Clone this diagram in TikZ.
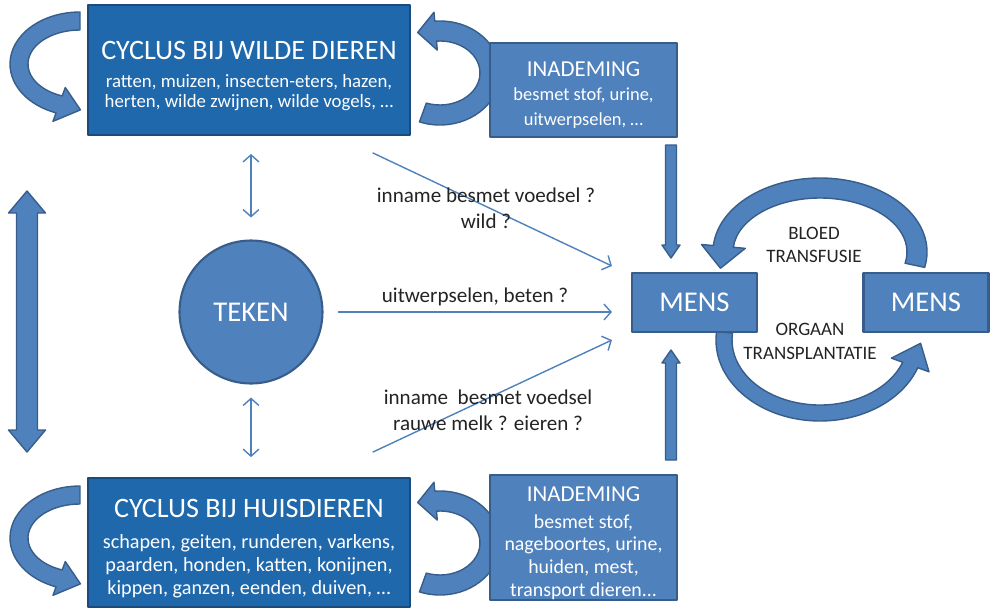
\documentclass[tikz,border=0pt]{standalone}
\usepackage{fontspec}
\setmainfont{Carlito}
\usetikzlibrary{arrows.meta,calc}

\definecolor{darkbox}{RGB}{31,104,172}
\definecolor{darkedge}{RGB}{27,74,124}
\definecolor{midbox}{RGB}{79,129,189}
\definecolor{midedge}{RGB}{56,93,138}
\definecolor{labeltext}{RGB}{35,35,35}

% curved block arrow: centre, rx, ry, from angle, to angle, half band, head extra, head length
\newcommand{\bandarrow}[8]{%
	\pgfmathsetmacro{\bsgn}{sign(#5-#4)}%
	\pgfmathsetmacro{\btx}{-\bsgn*#2*sin(#5)}%
	\pgfmathsetmacro{\bty}{\bsgn*#3*cos(#5)}%
	\pgfmathsetmacro{\btl}{veclen(\btx,\bty)}%
	\pgfmathsetmacro{\btipx}{#2*cos(#5)+#8*\btx/\btl}%
	\pgfmathsetmacro{\btipy}{#3*sin(#5)+#8*\bty/\btl}%
	\pgfmathsetmacro{\oxr}{#2+#6}\pgfmathsetmacro{\oyr}{#3+#6}%
	\pgfmathsetmacro{\ixr}{#2-#6}\pgfmathsetmacro{\iyr}{#3-#6}%
	\pgfmathsetmacro{\hoxr}{#2+#6+#7}\pgfmathsetmacro{\hoyr}{#3+#6+#7}%
	\pgfmathsetmacro{\hixr}{#2-#6-#7}\pgfmathsetmacro{\hiyr}{#3-#6-#7}%
	\begin{scope}[shift={(#1)}]
		\filldraw[bandstyle] (#4:\oxr\space and \oyr)
		arc[start angle=#4, end angle=#5, x radius=\oxr, y radius=\oyr]
		-- (#5:\hoxr\space and \hoyr) -- (\btipx,\btipy)
		-- (#5:\hixr\space and \hiyr) -- (#5:\ixr\space and \iyr)
		arc[start angle=#5, end angle=#4, x radius=\ixr, y radius=\iyr] -- cycle;
	\end{scope}}

% straight vertical block arrow: x, tail y, tip y
\newcommand{\vblock}[3]{%
	\pgfmathsetmacro{\hbase}{#3+13*sign(#2-#3)}%
	\filldraw[bandstyle] (#1-5.5,#2) -- (#1-5.5,\hbase) -- (#1-9,\hbase) -- (#1,#3)
	-- (#1+9,\hbase) -- (#1+5.5,\hbase) -- (#1+5.5,#2) -- cycle;}

\begin{document}
\begin{tikzpicture}[
	x=0.02cm, y=-0.02cm,
	every node/.style={font=\fontsize{12}{14}\selectfont},
	line cap=round,
	line join=round,
	bandstyle/.style={fill=midbox, draw=midedge, line width=0.8pt},
	cyclebox/.style={draw=darkedge, line width=1.2pt, fill=darkbox, text=white,
		align=center, inner sep=0pt, minimum width=6.44cm},
	breathbox/.style={draw=midedge, line width=1.2pt, fill=midbox, text=white,
		align=center, inner sep=0pt, minimum width=3.74cm},
	humanbox/.style={breathbox, minimum width=2.5cm, minimum height=1.18cm,
		font=\fontsize{16.3}{18}\selectfont},
	intake/.style={draw=midbox, line width=0.8pt, -{Straight Barb[length=4pt,width=9pt]}},
	tickpair/.style={draw=midbox, line width=0.8pt,
		{Straight Barb[length=4pt,width=9pt]}-{Straight Barb[length=4pt,width=9pt]}},
	pathlabel/.style={text=labeltext, align=center, font=\fontsize{12}{15}\selectfont},
	organlabel/.style={text=labeltext, align=center, font=\fontsize{10.8}{13.3}\selectfont}
	]
	
	\useasboundingbox (0,0) rectangle (995,609);
	
	% loops and bent arrows (behind the boxes)
	\bandarrow{80,64}{61}{43}{270}{110}{9}{9}{22}
	\bandarrow{80,538}{61}{43}{270}{110}{9}{9}{22}
	\bandarrow{440,73}{50}{42}{110}{-95}{10}{9}{18}
	\bandarrow{440,543}{50}{42}{110}{-95}{10}{9}{18}
	\bandarrow{820,252}{97}{64}{12}{-175}{10}{12}{22}
	\bandarrow{820,340}{96}{73}{186}{20}{8}{12}{24}
	
	% boxes
	\node[cyclebox, minimum height=2.6cm, font=\fontsize{10.7}{11.6}\selectfont] (wild) at (249,70)
	{{\fontsize{16}{19}\selectfont\rule{0pt}{17pt}CYCLUS BIJ WILDE DIEREN}\\[4.3pt]
		ratten, muizen, insecten-eters, hazen,\\
		herten, wilde zwijnen, wilde vogels, …};
	\node[breathbox, minimum height=1.88cm, font=\fontsize{10.5}{14}\selectfont] (inademA) at (583.5,90)
	{{\fontsize{13}{14}\selectfont\rule{0pt}{14pt}INADEMING}\\
		besmet stof, urine,\\
		uitwerpselen, …};
	\node[cyclebox, minimum height=2.58cm, font=\fontsize{11.5}{13}\selectfont] (huis) at (249,542.5)
	{{\fontsize{16}{19}\selectfont\rule{0pt}{17pt}CYCLUS BIJ HUISDIEREN}\\[4.6pt]
		schapen, geiten, runderen, varkens,\\
		paarden, honden, katten, konijnen,\\
		kippen, ganzen, eenden, duiven, …};
	\node[breathbox, minimum height=2.38cm, font=\fontsize{11.3}{13}\selectfont] (inademB) at (583.5,537.5)
	{{\fontsize{13}{14}\selectfont\rule{0pt}{15pt}INADEMING}\\[2pt]
		besmet stof,\\
		nageboortes, urine,\\
		huiden, mest,\\
		transport dieren...};
	\node[breathbox, circle, minimum size=2.86cm, minimum width=2.86cm,
	font=\fontsize{16.3}{18}\selectfont] (teken) at (251,312) {TEKEN};
	\node[humanbox] (mensL) at (694.5,302.5) {MENS};
	\node[humanbox] (mensR) at (926,302.5) {MENS};
	
	% big double arrow between the two cycles
	\filldraw[bandstyle] (27,191) -- (45.5,213) -- (37.5,213) -- (37.5,430) -- (45.5,430)
	-- (27,452) -- (8.5,430) -- (16.5,430) -- (16.5,213) -- (8.5,213) -- cycle;
	
	% inhalation into man
	\vblock{671}{145}{258}
	\vblock{671}{460}{350}
	
	% ticks
	\draw[tickpair, shorten <=10.2pt, shorten >=12.5pt] (wild.south -| teken) -- (teken.north);
	\draw[tickpair, shorten <=7.4pt, shorten >=11.3pt] (teken.south) -- (teken.south |- huis.north);
	
	% routes to man
	\coordinate (wildfood) at (373,153);
	\coordinate (homefood) at (373,452);
	\draw[intake] (wildfood) -- ($(mensL.west)+(-19,-36.5)$);
	\draw[intake, shorten <=8.5pt] (teken.east) -- ($(teken.east -| mensL.west)+(-19,0)$);
	\draw[intake] (homefood) -- ($(mensL.west)+(-19,37.5)$);
	
	\node[pathlabel] (wildlabel) at (486,208.5) {inname besmet voedsel ?\\wild ?};
	\node[pathlabel] (bitelabel) at (475,297) {uitwerpselen, beten ?};
	\node[pathlabel] (homelabel) at (488,410) {inname\ \ besmet voedsel\\rauwe melk ? eieren ?};
	\node[organlabel] (bloodlabel) at (814,245) {BLOED\\TRANSFUSIE};
	\node[organlabel] (organlabel) at (810,341.5) {ORGAAN\\TRANSPLANTATIE};
	
\end{tikzpicture}
\end{document}
